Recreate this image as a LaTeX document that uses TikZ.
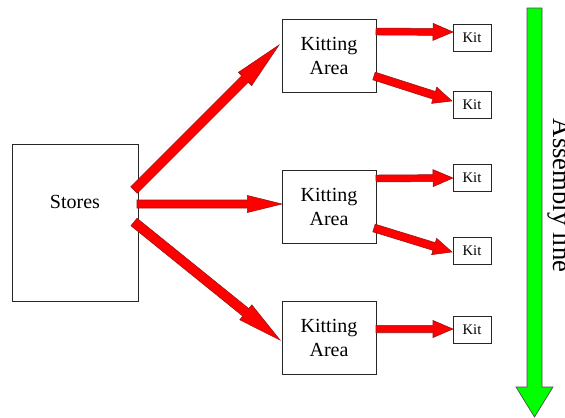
\documentclass[tikz,border=0pt]{standalone}
\usepackage{fontspec}
\setmainfont{Liberation Serif}
\usetikzlibrary{calc}
\definecolor{arrowred}{RGB}{255,0,0}
\definecolor{arrowedge}{RGB}{150,20,20}
\definecolor{linegreen}{RGB}{0,255,0}
\tikzset{
  box/.style={draw=black!85, line width=0.7pt, fill=white, inner sep=0pt},
  bigbox/.style={box, minimum width=94.5pt, minimum height=117.75pt},
  kitting/.style={box, minimum width=70.5pt, minimum height=54.75pt, align=center, font=\fontsize{15}{18}\selectfont},
  kitbox/.style={box, minimum width=28.5pt, minimum height=20.25pt, font=\fontsize{11}{13}\selectfont},
  redarrow/.style={fill=arrowred, draw=arrowedge, line width=0.4pt, line join=miter},
  greenarrow/.style={fill=linegreen, draw=black!70, line width=0.5pt},
}
\newcommand\fatarrow[5]{%
  \path[redarrow] let \p1=($(#2)-(#1)$), \n1={atan2(\y1,\x1)}, \n2={veclen(\x1,\y1)}, \n3={veclen(\x1,\y1)-#5pt}
    in [shift={(#1)}, rotate=\n1]
    (0pt,-#3pt) -- (\n3,-#3pt) -- (\n3,-#4pt) -- (\n2,0pt) -- (\n3,#4pt) -- (\n3,#3pt) -- (0pt,#3pt) -- cycle;}
\begin{document}
\begin{tikzpicture}[x=0.75pt,y=-0.75pt]
\useasboundingbox (0,0) rectangle (565,418);
\fill[white] (0,0) rectangle (565,418);

% boxes
\node[bigbox] (stores) at (75,222.5) {};
\node[font=\fontsize{15}{18}\selectfont, inner sep=0pt] (storestext) at (75,202) {Stores};

\node[kitting] (k1) at (329,55.5) {Kitting\\Area};
\node[kitting] (k2) at (329,207) {Kitting\\Area};
\node[kitting] (k3) at (329,337.5) {Kitting\\Area};

\node[kitbox] (t1) at (472,37.5) {Kit};
\node[kitbox] (t2) at (472,105) {Kit};
\node[kitbox] (t3) at (472,178) {Kit};
\node[kitbox] (t4) at (472,251) {Kit};
\node[kitbox] (t5) at (472,329.5) {Kit};

% arrow end points
\coordinate (a1s) at (134,190);
\coordinate (a1e) at (279,45);
\coordinate (a2s) at (137,204);
\coordinate (a2e) at (282,204);
\coordinate (a3s) at (134,222);
\coordinate (a3e) at (280,340);

\coordinate (b1s) at (376,31.5);
\coordinate (b1e) at (453,32);
\coordinate (b2s) at (374,76);
\coordinate (b2e) at (452,101);
\coordinate (b3s) at (376,178.5);
\coordinate (b3e) at (453,178);
\coordinate (b4s) at (374,228);
\coordinate (b4e) at (452,252);
\coordinate (b5s) at (376,329);
\coordinate (b5e) at (453,329);

\fatarrow{a1s}{a1e}{3.4}{7}{36}
\fatarrow{a2s}{a2e}{3}{6.4}{26}
\fatarrow{a3s}{a3e}{3.6}{7.2}{33}

\fatarrow{b1s}{b1e}{2.6}{6.4}{15}
\fatarrow{b2s}{b2e}{3}{6.4}{14}
\fatarrow{b3s}{b3e}{2.6}{6.4}{15}
\fatarrow{b4s}{b4e}{3}{6.4}{14}
\fatarrow{b5s}{b5e}{2.8}{6.4}{15}

% assembly line arrow
\draw[greenarrow] (527,8) -- (542,8) -- (542,387) -- (553,387) -- (534.5,417) -- (516,387) -- (527,387) -- cycle;
\node[rotate=-90, anchor=base, inner sep=0pt, font=\fontsize{20}{24}\selectfont] (asm) at (553,195.5) {Assembly line};
\end{tikzpicture}
\end{document}
